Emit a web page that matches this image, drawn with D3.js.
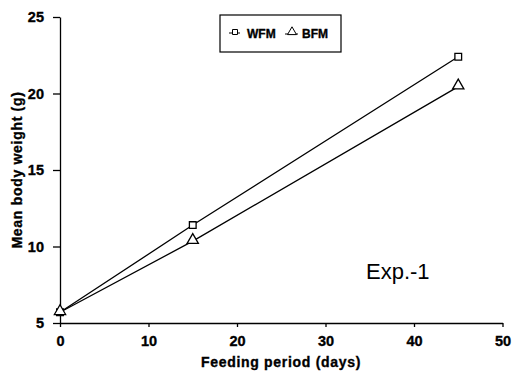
<!DOCTYPE html>
<html>
<head>
<meta charset="utf-8">
<script src="https://cdn.jsdelivr.net/npm/d3@7"></script>
<style>
  body { margin: 0; background: #fff; }
  text { font-family: "Liberation Sans", Arial, sans-serif; fill: #000; }
</style>
</head>
<body>
<div id="chart"></div>
<script>
// Data
var days = [0, 15, 45];
var wfm = [5.7, 11.4, 22.4];
var bfm = [5.7, 10.35, 20.45];
var xTicks = [0, 10, 20, 30, 40, 50];
var yTicks = [5, 10, 15, 20, 25];

var W = 513, H = 378;
var margin = { top: 17, left: 60 };
var width = 502.5 - margin.left;
var height = 323 - margin.top;

var svg = d3.select("#chart")
  .append("svg")
  .attr("width", W)
  .attr("height", H);

var g = svg.append("g")
  .attr("transform", "translate(" + margin.left + "," + margin.top + ")");

var x = d3.scaleLinear().domain([0, 50]).range([0, width]);
var y = d3.scaleLinear().domain([5, 25]).range([height, 0]);

// heavy bold text, like the scanned figure
function heavy(sel, size) {
  sel.style("font-family", "'Liberation Sans', Arial, sans-serif")
    .style("font-weight", "bold")
    .style("font-size", size + "px")
    .style("fill", "#000")
    .style("stroke", "#000")
    .style("stroke-width", "0.35px");
}

function styleAxis(sel) {
  sel.attr("font-family", null).attr("font-size", null);
  sel.selectAll("text").call(heavy, 14.5);
  sel.selectAll("path, line")
    .attr("stroke", "#000")
    .attr("stroke-width", 1.3);
}

g.append("g")
  .attr("transform", "translate(0," + height + ")")
  .call(d3.axisBottom(x).tickValues(xTicks).tickSize(4).tickSizeOuter(0).tickPadding(9))
  .call(styleAxis);

g.append("g")
  .call(d3.axisLeft(y).tickValues(yTicks).tickSize(7).tickSizeOuter(0).tickPadding(9))
  .call(styleAxis);

// lines
var line = d3.line()
  .x(function (d, i) { return x(days[i]); })
  .y(function (d) { return y(d); });

[wfm, bfm].forEach(function (s) {
  g.append("path")
    .attr("d", line(s))
    .attr("fill", "none")
    .attr("stroke", "#000")
    .attr("stroke-width", 1.3);
});

// markers
var sq = d3.symbol().type(d3.symbolSquare).size(45);
var tri = d3.symbol().type(d3.symbolTriangle).size(55);

g.selectAll(".sq")
  .data(wfm)
  .enter()
  .append("path")
  .attr("class", "sq")
  .attr("d", sq)
  .attr("transform", function (d, i) { return "translate(" + x(days[i]) + "," + y(d) + ")"; })
  .attr("fill", "#fff")
  .attr("stroke", "#000")
  .attr("stroke-width", 1.3);

g.selectAll(".tri")
  .data(bfm)
  .enter()
  .append("path")
  .attr("class", "tri")
  .attr("d", tri)
  .attr("transform", function (d, i) { return "translate(" + x(days[i]) + "," + (y(d) - 1) + ")"; })
  .attr("fill", "#fff")
  .attr("stroke", "#000")
  .attr("stroke-width", 1.3);

// legend
var lg = svg.append("g").attr("transform", "translate(220,15)");
lg.append("rect")
  .attr("width", 121)
  .attr("height", 37)
  .attr("fill", "#fff")
  .attr("stroke", "#000")
  .attr("stroke-width", 1.2);

lg.append("line").attr("x1", 9).attr("x2", 20).attr("y1", 18).attr("y2", 18).attr("stroke", "#000");
lg.append("path").attr("d", d3.symbol().type(d3.symbolSquare).size(25))
  .attr("transform", "translate(15,17)").attr("fill", "#fff").attr("stroke", "#000");
lg.append("text").attr("x", 27).attr("y", 23).text("WFM").call(heavy, 12);

lg.append("line").attr("x1", 65).attr("x2", 78).attr("y1", 19).attr("y2", 19).attr("stroke", "#000");
lg.append("path").attr("d", d3.symbol().type(d3.symbolTriangle).size(35))
  .attr("transform", "translate(72,17)").attr("fill", "#fff").attr("stroke", "#000");
lg.append("text").attr("x", 82).attr("y", 23).text("BFM").call(heavy, 12);

// annotation
svg.append("text")
  .attr("x", 366)
  .attr("y", 279)
  .style("font-size", "22px")
  .text("Exp.-1");

// axis titles
svg.append("text")
  .attr("text-anchor", "middle")
  .attr("transform", "translate(281,367)")
  .text("Feeding period (days)")
  .call(heavy, 14)
  .style("letter-spacing", "0.7px");

svg.append("text")
  .attr("text-anchor", "middle")
  .attr("transform", "translate(22,170) rotate(-90)")
  .text("Mean body weight (g)")
  .call(heavy, 14)
  .style("letter-spacing", "0.7px");
</script>
</body>
</html>
